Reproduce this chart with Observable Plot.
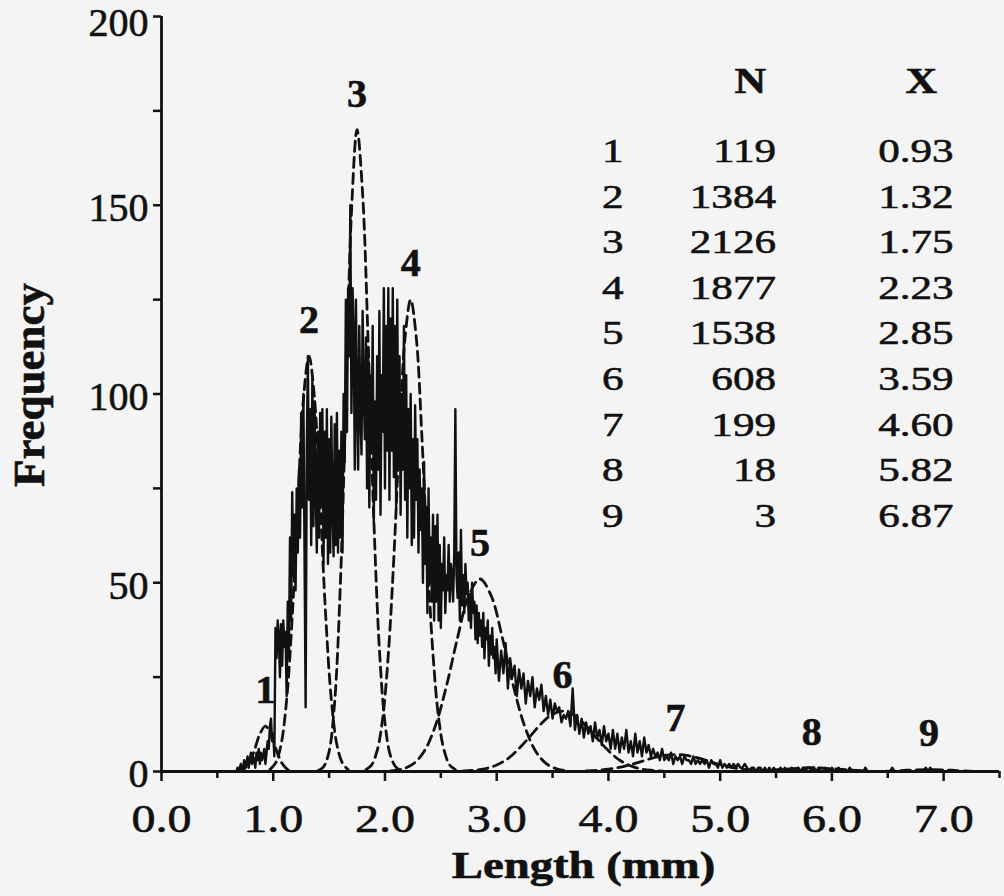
<!DOCTYPE html>
<html><head><meta charset="utf-8">
<script src="https://cdn.jsdelivr.net/npm/d3@7"></script>
<script src="https://cdn.jsdelivr.net/npm/@observablehq/plot@0.6"></script>
<style>
html,body{margin:0;padding:0;background:#f4f4f4;}
#chart{width:1004px;height:896px;}
#chart text{stroke:#111;stroke-width:0.6px;paint-order:stroke;}
</style></head><body><div id="chart"></div>
<script>
// ---- data ----
const componentIds = [1, 2, 3, 4, 5, 6, 7, 8, 9];
const componentN = [119, 1384, 2126, 1877, 1538, 608, 199, 18, 3];
const componentMean = [0.93, 1.32, 1.75, 2.23, 2.85, 3.59, 4.60, 5.82, 6.87];
const xTicks = [0, 1, 2, 3, 4, 5, 6, 7];
const xMinorTicks = [0.5, 1.5, 2.5, 3.5, 4.5, 5.5, 6.5, 7.5];
const yTopTick = [200];
const yLowerTicks = [0, 50, 100, 150];
const yMinorTicks = [25, 75, 125, 175];

// observed length-frequency histogram
// fine part: bins of 0.01 mm from 0.66 to 2.99 mm
const fineStart = 0.66, fineWidth = 0.01;
const frequencyFine = [
  0,0,1,0,1,2,0,1,3,1,
  2,4,1,3,5,2,4,3,1,5,
  3,6,2,5,3,4,6,2,5,8,
  6,12,14,8,10,4,38,30,40,36,
  25,39,28,40,33,37,20,45,30,62,
  40,74,52,68,48,75,58,80,62,95,
  70,100,58,17,85,110,72,96,60,104,
  65,98,75,58,90,62,95,70,96,55,
  90,62,96,55,88,58,94,70,57,92,
  60,95,58,85,62,90,58,100,82,125,
  90,128,110,150,95,128,115,80,125,98,
  80,118,95,84,122,100,88,115,75,112,
  70,105,85,118,66,98,72,110,80,122,
  68,105,90,128,75,118,85,128,72,120,
  85,128,78,118,70,125,82,110,68,100,
  80,118,72,105,62,96,75,100,60,88,
  62,97,72,88,58,80,64,75,50,82,
  55,70,42,75,50,62,45,68,40,65,
  45,68,40,60,38,55,48,62,42,52,
  48,60,45,55,52,45,58,96,52,46,
  58,40,64,44,52,42,55,47,50,40,
  47,38,50,42,45,35,44,34,42,36,
  40,33,42,30,38,35,40,28,36,31,
  38,30,33,26
];
// tail: bins of 0.02 mm from 3.00 mm
const tailStart = 3.00, tailWidth = 0.02;
const frequencyTail = [
  35,24,32,26,34,22,30,25,28,20,
  27,22,26,18,24,20,25,17,22,19,
  23,16,20,15,19,14,18,16,17,13,
  15,14,16,12,22,11,15,10,14,9,
  13,10,12,8,13,9,11,7,12,8,
  10,6,11,6,10,5,9,6,11,5,
  8,4,10,5,8,4,9,5,7,4,
  6,4,5,3,6,3,4,3,5,2,
  4,3,4,2,4,3,3,2,4,2,
  3,2,3,2,3,1,3,2,2,1,
  3,1,2,1,2,1,2,1,2,1,
  1,2,1,0,1,1,0,1,1,0,
  1,0,1,0,1,0,0,1,0,1,
  0,0,1,0,0,1,0,1,0,1,
  1,0,1,0,1,0,0,1,0,0,
  1,0,0,1,0,0,0,0,1,0,
  0,0,0,0,0,1,0,0,0,0,
  0,0,0,0,0,0,0,1,0,0,
  0,0,0,0,0,0,0,0,0,0,
  0,0,1,0,1,0,0,0,0
];

// fitted components (dashed curves), [length, frequency]
const component1 = [[0.68,0.1],[0.73,0.5],[0.78,2.1],[0.83,5.5],[0.88,9.9],[0.93,12],[0.98,9.9],[1.03,5.5],[1.08,2.1],[1.13,0.5],[1.18,0.1]];
const component2 = [[0.97,0.5],[1.02,2.2],[1.07,7.1],[1.12,19],[1.17,41],[1.22,71],[1.27,98.6],[1.32,110],[1.37,98.6],[1.42,71],[1.47,41],[1.52,19],[1.57,7.1],[1.62,2.2],[1.67,0.5]];
const component3 = [[1.40,0.2],[1.45,1.2],[1.50,5.3],[1.55,18.5],[1.60,49],[1.65,98],[1.70,148],[1.75,170],[1.80,153],[1.85,113],[1.90,67],[1.95,32.5],[2.00,12.9],[2.05,4.1],[2.10,1.1],[2.15,0.2]];
const component4 = [[1.83,0.5],[1.88,1.7],[1.93,5.5],[1.98,14.2],[2.03,31],[2.08,57],[2.13,89],[2.18,115],[2.23,125],[2.28,115],[2.33,89],[2.38,57],[2.43,31],[2.48,14.2],[2.53,5.5],[2.58,1.7],[2.63,0.5]];
const component5 = [[2.05,0.15],[2.15,0.6],[2.25,1.95],[2.35,5.3],[2.45,12],[2.55,22.6],[2.65,35.5],[2.75,46.6],[2.85,51],[2.95,46.6],[3.05,35.5],[3.15,22.6],[3.25,12],[3.35,5.3],[3.45,1.95],[3.55,0.6],[3.65,0.15]];
const component6 = [[2.69,0.1],[2.79,0.3],[2.89,0.7],[2.99,1.6],[3.09,3.2],[3.19,5.8],[3.29,9],[3.39,12.4],[3.49,15],[3.59,16],[3.69,15],[3.79,12.4],[3.89,9],[3.99,5.8],[4.09,3.2],[4.19,1.6],[4.29,0.7],[4.39,0.3],[4.49,0.1]];
const component7 = [[3.80,0.13],[3.90,0.3],[4.00,0.6],[4.10,1.1],[4.20,1.85],[4.30,2.7],[4.40,3.6],[4.50,4.26],[4.60,4.5],[4.70,4.26],[4.80,3.6],[4.90,2.7],[5.00,1.85],[5.10,1.1],[5.20,0.6],[5.30,0.3],[5.40,0.13]];
const component8 = [[5.32,0.1],[5.47,0.4],[5.62,0.7],[5.72,0.9],[5.82,1.0],[5.92,0.9],[6.02,0.7],[6.17,0.4],[6.32,0.1]];
const component9 = [[6.47,0.05],[6.62,0.25],[6.72,0.4],[6.87,0.5],[7.02,0.4],[7.12,0.25],[7.27,0.05]];

// ---- derived tables ----
const components = [component1, component2, component3, component4, component5, component6, component7, component8, component9];
const curveData = components.flatMap((pts, k) => pts.map(([x, y]) => ({x, y, k: componentIds[k]})));
const histogram = frequencyFine.map((f, i) => ({x: fineStart + i * fineWidth, y: f}))
  .concat(frequencyTail.map((f, i) => ({x: tailStart + i * tailWidth, y: f})));
const peaks = components.map((pts, k) => ({id: componentIds[k], x: componentMean[k], y: d3.max(pts, p => p[1])}));
const tableRows = componentIds.map((id, i) => ({id, n: componentN[i], mean: componentMean[i], row: i}));

// table layout (in axis units)
const rowTop = 164.4, rowStep = 12.08, headerY = 182.8;
const colId = 4.04, colN = 5.50, colMean = 7.09, headN = 5.27, headMean = 6.80;

const serif = "'Liberation Serif','Times New Roman',serif";
const ink = "#111";

const chart = Plot.plot({
  width: 1004, height: 896,
  marginLeft: 161, marginRight: 5, marginTop: 16, marginBottom: 125,
  x: {domain: [0, 7.5]},
  y: {domain: [0, 200]},
  style: {background: "transparent", fontFamily: serif, color: ink},
  marks: [
    Plot.line(curveData, {x: "x", y: "y", z: "k", curve: "catmull-rom", stroke: ink, strokeWidth: 2.8, strokeDasharray: "10,6"}),
    Plot.line(histogram, {x: "x", y: "y", stroke: ink, strokeWidth: 2.4}),
    Plot.ruleY([0], {stroke: ink, strokeWidth: 2.8}),
    Plot.ruleX([0], {stroke: ink, strokeWidth: 2.8}),
    // ticks
    Plot.axisX({ticks: xTicks, tickSize: 10, tickFormat: () => "", strokeWidth: 2.5, label: null}),
    Plot.axisX({ticks: xMinorTicks, tickSize: 7, tickFormat: () => "", strokeWidth: 2.5, label: null}),
    Plot.axisY({ticks: [...yLowerTicks, ...yTopTick], tickSize: 8, tickFormat: () => "", strokeWidth: 2.5, label: null}),
    Plot.axisY({ticks: yMinorTicks, tickSize: 8, tickFormat: () => "", strokeWidth: 2.5, label: null}),
    // tick labels
    Plot.axisX({ticks: xTicks, tickSize: 0, tickPadding: 32, fontSize: 40, tickFormat: d => d.toFixed(1), label: null}),
    Plot.axisY({ticks: yLowerTicks, tickSize: 0, tickPadding: 13, fontSize: 40, dy: 3, label: null}),
    Plot.axisY({ticks: yTopTick, tickSize: 0, tickPadding: 13, fontSize: 40, dy: 7, label: null}),
    // texts (order matters for the stretch below)
    Plot.text(peaks, {x: "x", y: "y", text: d => String(d.id), dy: -36, fontSize: 40, fontWeight: "bold", fill: ink}),
    Plot.text(tableRows, {x: () => colId, y: d => rowTop - d.row * rowStep, text: d => String(d.id), fontSize: 34.5, fill: ink}),
    Plot.text(tableRows, {x: () => colN, y: d => rowTop - d.row * rowStep, text: d => String(d.n), textAnchor: "end", fontSize: 34.5, fill: ink}),
    Plot.text(tableRows, {x: () => colMean, y: d => rowTop - d.row * rowStep, text: d => d.mean.toFixed(2), textAnchor: "end", fontSize: 34.5, fill: ink}),
    Plot.text(["N"], {x: () => headN, y: () => headerY, fontSize: 35, fontWeight: "bold", fill: ink}),
    Plot.text(["X"], {x: () => headMean, y: () => headerY, fontSize: 35, fontWeight: "bold", fill: ink}),
    Plot.text(["Length (mm)"], {frameAnchor: "bottom", lineAnchor: "bottom", textAnchor: "middle", dx: 3, dy: 106, fontSize: 38, fontWeight: "bold", fill: ink}),
    Plot.text(["Frequency"], {frameAnchor: "left", textAnchor: "middle", rotate: -90, dx: -132, dy: -9, fontSize: 45, fontWeight: "bold", fill: ink})
  ]
});
document.getElementById("chart").appendChild(chart);

// horizontal stretch of the typeset text, as in the printed figure
function stretchGroup(g, sx) {
  if (!g) return;
  g.querySelectorAll("text").forEach(t => {
    const tr = t.getAttribute("transform") || "";
    t.setAttribute("transform", `${tr} scale(${sx},1)`);
  });
}
chart.querySelectorAll('g[aria-label="x-axis tick label"]').forEach(g => stretchGroup(g, 1.2));
const textGroups = chart.querySelectorAll('g[aria-label="text"]');
for (let i = 1; i <= 5; i++) stretchGroup(textGroups[i], 1.25); // table
stretchGroup(textGroups[6], 1.23);           // x title
</script>
</body></html>
